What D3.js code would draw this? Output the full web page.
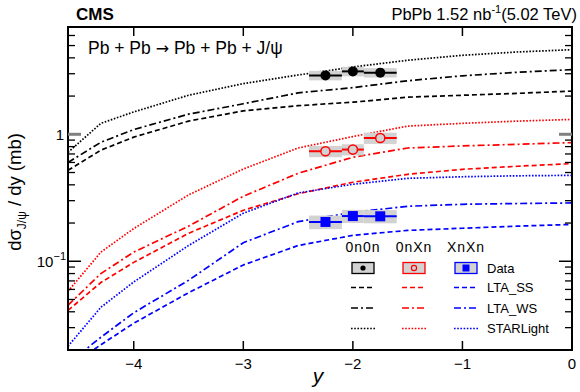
<!DOCTYPE html>
<html><head><meta charset="utf-8">
<script src="https://cdn.jsdelivr.net/npm/d3@7"></script>
<style>body{margin:0;background:#fff}svg{display:block;font-family:"Liberation Sans",Arial,Helvetica,sans-serif}</style>
</head><body><svg id="c" width="580" height="392"></svg>
<script>
// ---- model curves (rapidity grid) ----
const rapidity = [-4.6, -4.3, -4.0, -3.5, -3.0, -2.5, -2.0, -1.5, -1.0, -0.5, 0];
const starlight0n0n = [0.72, 1.22, 1.50, 2.03, 2.51, 2.93, 3.39, 3.83, 4.19, 4.45, 4.64];
const ltaWS0n0n = [0.60, 0.865, 1.09, 1.44, 1.74, 2.12, 2.33, 2.64, 2.89, 3.08, 3.23];
const ltaSS0n0n = [0.52, 0.75, 0.95, 1.27, 1.53, 1.68, 1.79, 1.96, 2.03, 2.10, 2.19];
const starlight0nXn = [0.058, 0.118, 0.181, 0.333, 0.533, 0.78, 0.96, 1.16, 1.22, 1.27, 1.31];
const ltaWS0nXn = [0.045, 0.080, 0.118, 0.189, 0.325, 0.493, 0.659, 0.78, 0.81, 0.834, 0.86];
const ltaSS0nXn = [0.041, 0.068, 0.098, 0.166, 0.252, 0.340, 0.419, 0.484, 0.53, 0.56, 0.588];
const starlightXnXn = [0.0214, 0.0434, 0.0687, 0.133, 0.239, 0.345, 0.404, 0.45, 0.463, 0.471, 0.475];
const ltaWSXnXn = [0.0157, 0.0252, 0.0393, 0.0708, 0.140, 0.205, 0.243, 0.271, 0.281, 0.285, 0.288];
const ltaSSXnXn = [0.0146, 0.022, 0.0325, 0.0565, 0.0935, 0.133, 0.160, 0.175, 0.182, 0.189, 0.195];

// ---- CMS data ----
const binLow = [-2.4, -2.1, -1.9];
const binHigh = [-2.1, -1.9, -1.6];
const binCenter = [-2.25, -2.0, -1.75];
const data0n0n = [2.91, 3.13, 3.06];
const stat0n0n = [0.12, 0.12, 0.12];
const sys0n0n = [0.25, 0.27, 0.26];
const data0nXn = [0.735, 0.758, 0.935];
const stat0nXn = [0.03, 0.03, 0.04];
const sys0nXn = [0.075, 0.077, 0.095];
const dataXnXn = [0.204, 0.227, 0.226];
const statXnXn = [0.01, 0.01, 0.01];
const sysXnXn = [0.025, 0.027, 0.027];

// ---- ticks ----
const xTicks = [-4, -3, -2, -1, 0];
const xTickLabels = ["\u22124", "\u22123", "\u22122", "\u22121", "0"];
const yMajor = [0.1, 1];
const yMinor = [0.02,0.03,0.04,0.05,0.06,0.07,0.08,0.09,0.2,0.3,0.4,0.5,0.6,0.7,0.8,0.9,2,3,4,5,6,7];

const svg = d3.select("#c");
const L = 68, R = 572, T = 27, B = 350;
const x = d3.scaleLinear().domain([-4.6, 0]).range([L, R]);
const y = d3.scaleLog().domain([0.02, 7]).range([B, T]);

svg.append("defs").append("clipPath").attr("id","clip")
  .append("rect").attr("x",L).attr("y",T).attr("width",R-L).attr("height",B-T);

const colors = {k:"#000000", r:"#ff0000", b:"#0000ff"};
const styles = {ss:"5,3", ws:"7,3,2,3", sl:"1.6,1.6"};

const curves = [
  [starlight0n0n, colors.k, styles.sl], [ltaWS0n0n, colors.k, styles.ws], [ltaSS0n0n, colors.k, styles.ss],
  [starlight0nXn, colors.r, styles.sl], [ltaWS0nXn, colors.r, styles.ws], [ltaSS0nXn, colors.r, styles.ss],
  [starlightXnXn, colors.b, styles.sl], [ltaWSXnXn, colors.b, styles.ws], [ltaSSXnXn, colors.b, styles.ss]
];
const line = d3.line().x(d => x(d[0])).y(d => y(d[1]));
const gc = svg.append("g").attr("clip-path","url(#clip)");
curves.forEach(([vals, col, dash]) => {
  gc.append("path").datum(rapidity.map((r,i)=>[r, vals[i]]))
    .attr("d", line).attr("fill","none").attr("stroke", col)
    .attr("stroke-width", 1.7).attr("stroke-dasharray", dash);
});

// data sets
const sets = [
  {v:data0n0n, st:stat0n0n, sy:sys0n0n, col:colors.k, m:"dot"},
  {v:data0nXn, st:stat0nXn, sy:sys0nXn, col:colors.r, m:"open"},
  {v:dataXnXn, st:statXnXn, sy:sysXnXn, col:colors.b, m:"sq"}
];
sets.forEach(s => {
  s.v.forEach((v,i) => {
    gc.append("rect").attr("x", x(binLow[i])).attr("width", x(binHigh[i]) - x(binLow[i]))
      .attr("y", y(v + s.sy[i])).attr("height", y(v - s.sy[i]) - y(v + s.sy[i]))
      .attr("fill", "#d2d2d2");
  });
});
sets.forEach(s => {
  s.v.forEach((v,i) => {
    gc.append("line").attr("x1", x(binLow[i])).attr("x2", x(binHigh[i]))
      .attr("y1", y(v)).attr("y2", y(v)).attr("stroke", s.col).attr("stroke-width", 2);
    gc.append("line").attr("x1", x(binCenter[i])).attr("x2", x(binCenter[i]))
      .attr("y1", y(v + s.st[i])).attr("y2", y(v - s.st[i])).attr("stroke", s.col).attr("stroke-width", 2);
    const cx = x(binCenter[i]), cy = y(v);
    if (s.m === "dot") gc.append("circle").attr("cx",cx).attr("cy",cy).attr("r",5).attr("fill",s.col);
    else if (s.m === "open") gc.append("circle").attr("cx",cx).attr("cy",cy).attr("r",4.6).attr("fill","#d2d2d2").attr("stroke",s.col).attr("stroke-width",1.5);
    else gc.append("rect").attr("x",cx-5).attr("y",cy-5).attr("width",10).attr("height",10).attr("fill",s.col);
  });
});

// frame and ticks
const ga = svg.append("g").attr("stroke","#000");
ga.append("rect").attr("x",L).attr("y",T).attr("width",R-L).attr("height",B-T)
  .attr("fill","none").attr("stroke-width",2);
xTicks.forEach(t => {
  if (t === 0) return;
  ga.append("line").attr("x1",x(t)).attr("x2",x(t)).attr("y1",B).attr("y2",B-9).attr("stroke-width",1.5);
  ga.append("line").attr("x1",x(t)).attr("x2",x(t)).attr("y1",T).attr("y2",T+9).attr("stroke-width",1.5);
});
yMinor.forEach(t => {
  ga.append("line").attr("x1",L).attr("x2",L+7).attr("y1",y(t)).attr("y2",y(t)).attr("stroke-width",1.3);
  ga.append("line").attr("x1",R).attr("x2",R-7).attr("y1",y(t)).attr("y2",y(t)).attr("stroke-width",1.3);
});
yMajor.forEach(t => {
  const c = t === 1 ? "#808080" : "#000";
  const w = t === 1 ? 3 : 1.5;
  ga.append("line").attr("x1",L).attr("x2",L+13).attr("y1",y(t)).attr("y2",y(t)).attr("stroke-width",w).attr("stroke",c);
  ga.append("line").attr("x1",R).attr("x2",R-13).attr("y1",y(t)).attr("y2",y(t)).attr("stroke-width",w).attr("stroke",c);
});

// tick labels
xTicks.forEach((t,i) => {
  svg.append("text").attr("x", x(t)).attr("y", 369).attr("text-anchor","middle")
    .attr("font-size",15).text(xTickLabels[i]);
});
svg.append("text").attr("x",64).attr("y",y(1)+5.5).attr("text-anchor","end").attr("font-size",15).text("1");
const t01 = svg.append("text").attr("x",66).attr("y",y(0.1)+5.5).attr("text-anchor","end").attr("font-size",15);
t01.append("tspan").text("10");
t01.append("tspan").attr("font-size",11).attr("dy",-7).text("\u22121");

// axis titles
svg.append("text").attr("x",318).attr("y",383).attr("text-anchor","middle")
  .attr("font-size",21).attr("font-style","italic").text("y");
const yl = svg.append("text").attr("transform","translate(21,192) rotate(-90)")
  .attr("text-anchor","middle").attr("font-size",18.5);
yl.append("tspan").text("d\u03c3");
yl.append("tspan").attr("font-size",12).attr("dy",5).text("J/\u03c8");
yl.append("tspan").attr("dy",-5).text(" / dy (mb)");

// headers
svg.append("text").attr("x",76).attr("y",20).attr("font-size",17).attr("font-weight","bold").text("CMS");
const hr = svg.append("text").attr("x",577).attr("y",20).attr("text-anchor","end").attr("font-size",16.5);
hr.append("tspan").text("PbPb 1.52 nb");
hr.append("tspan").attr("font-size",11).attr("dy",-7).text("-1");
hr.append("tspan").attr("dy",7).text("(5.02 TeV)");
const ttl = svg.append("text").attr("x",88).attr("y",54).attr("font-size",17.5);
ttl.append("tspan").text("Pb + Pb ");
ttl.append("tspan").attr("font-family","'DejaVu Sans'").attr("font-size",16).text("\u2192");
ttl.append("tspan").text(" Pb + Pb + J/\u03c8");

// legend
const colHead = ["0n0n", "0nXn", "XnXn"];
const colX = [363, 414, 466];
const colCol = [colors.k, colors.r, colors.b];
const rowY = [268, 287.5, 308, 328.5];
const rowLab = ["Data", "LTA_SS", "LTA_WS", "STARLight"];
const rowDash = [null, styles.ss, styles.ws, styles.sl];
const lg = svg.append("g");
colHead.forEach((h,i) => {
  lg.append("text").attr("x",colX[i]).attr("y",252).attr("text-anchor","middle")
    .attr("font-size",14).attr("letter-spacing",1).text(h);
});
rowLab.forEach((lab,j) => {
  lg.append("text").attr("x",487).attr("y",rowY[j]+4.5).attr("font-size",13).text(lab);
});
colX.forEach((cx,i) => {
  const cy = rowY[0];
  lg.append("rect").attr("x",cx-11).attr("y",cy-5.5).attr("width",22).attr("height",11)
    .attr("fill","#d2d2d2").attr("stroke",colCol[i]).attr("stroke-width",1.3);
  if (i === 0) lg.append("circle").attr("cx",cx).attr("cy",cy).attr("r",2.6).attr("fill",colCol[i]);
  else if (i === 1) lg.append("circle").attr("cx",cx).attr("cy",cy).attr("r",2.6).attr("fill","none").attr("stroke",colCol[i]).attr("stroke-width",1.2);
  else lg.append("rect").attr("x",cx-3.5).attr("y",cy-3.5).attr("width",7).attr("height",7).attr("fill",colCol[i]);
  for (let j = 1; j < 4; j++) {
    lg.append("line").attr("x1",cx-12).attr("x2",cx+12).attr("y1",rowY[j]).attr("y2",rowY[j])
      .attr("stroke",colCol[i]).attr("stroke-width",1.7).attr("stroke-dasharray",rowDash[j]);
  }
});
</script></body></html>
